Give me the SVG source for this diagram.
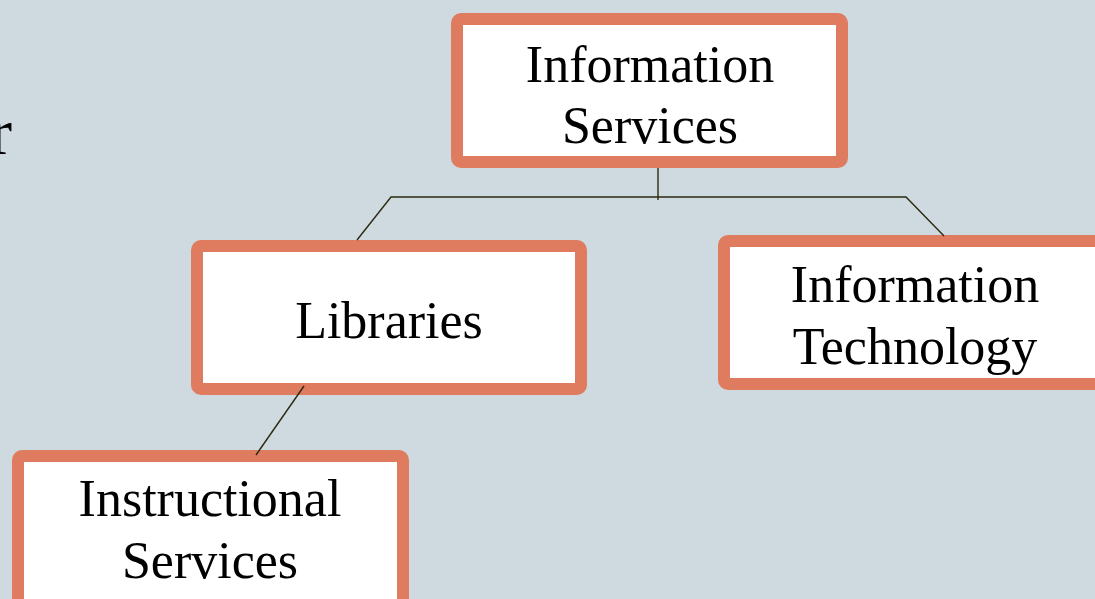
<svg xmlns="http://www.w3.org/2000/svg" width="1095" height="599" viewBox="0 0 1095 599">
<style>
.box{fill:#ffffff;stroke:#DF7B5E;stroke-width:12;}
.lbl{font-family:"Liberation Serif","Times New Roman",serif;font-size:52px;fill:#000;text-anchor:middle;}
.conn{stroke:#2b2a10;stroke-width:1.4;fill:none;}
</style>
<rect x="0" y="0" width="1095" height="599" fill="#CFDAE0"/>
<text x="-10" y="154" style="font-family:'Liberation Serif','Times New Roman',serif;font-size:66px;fill:#000;">r</text>
<g id="node-information-services">
<rect class="box" x="457" y="19" width="385" height="143" rx="4"/>
<text class="lbl" x="650" y="82">Information</text>
<text class="lbl" x="650" y="143">Services</text>
</g>
<g id="node-libraries">
<rect class="box" x="197" y="246" width="384" height="143" rx="4"/>
<text class="lbl" x="389" y="338">Libraries</text>
</g>
<g id="node-information-technology">
<rect class="box" x="724" y="241" width="390" height="143" rx="4"/>
<text class="lbl" x="915" y="302">Information</text>
<text class="lbl" x="915" y="364">Technology</text>
</g>
<g id="node-instructional-services">
<rect class="box" x="18" y="456" width="385" height="160" rx="4"/>
<text class="lbl" x="210" y="516">Instructional</text>
<text class="lbl" x="210" y="578">Services</text>
</g>
<g id="connectors">
<polyline class="conn" points="658,168 658,200"/>
<polyline class="conn" points="357,240 391,197 906,197 944,236"/>
<line class="conn" x1="304" y1="386" x2="256" y2="455"/>
</g>
</svg>
